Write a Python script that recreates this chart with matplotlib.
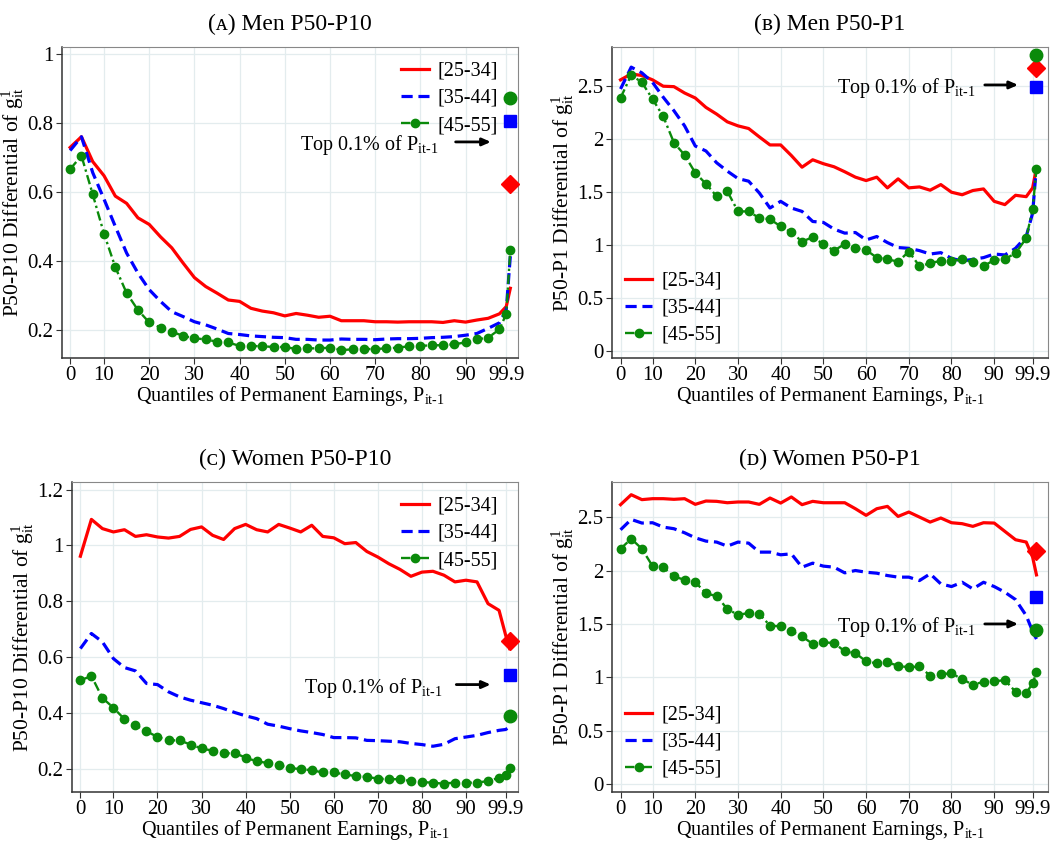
import numpy as np
import matplotlib
matplotlib.use("Agg")
import matplotlib.pyplot as plt

plt.rcParams['font.family'] = ['Liberation Serif', 'DejaVu Serif']
plt.rcParams['mathtext.fontset'] = 'custom'
plt.rcParams['mathtext.rm'] = 'Liberation Serif'
plt.rcParams['mathtext.it'] = 'Liberation Serif:italic'

# quantile positions (first point drawn at the "0" tick, 99 shown as "99.9")
quant = list(np.arange(2.5, 98, 2.5)) + [99.0, 99.9]
tick_pos = [2.5, 10, 20, 30, 40, 50, 60, 70, 80, 90, 99]
tick_lab = ['0', '10', '20', '30', '40', '50', '60', '70', '80', '90', '99.9']

# (A) Men P50-P10
men_p10_y25 = [0.729, 0.760, 0.688, 0.647, 0.588, 0.567, 0.525, 0.506, 0.470, 0.438,
               0.394, 0.352, 0.326, 0.307, 0.287, 0.283, 0.263, 0.255, 0.250, 0.241,
               0.248, 0.243, 0.237, 0.240, 0.227, 0.227, 0.227, 0.224, 0.224, 0.223,
               0.224, 0.224, 0.224, 0.222, 0.227, 0.223, 0.229, 0.234, 0.247, 0.268, 0.321]
men_p10_y35 = [0.720, 0.760, 0.656, 0.579, 0.500, 0.423, 0.365, 0.317, 0.283, 0.253,
               0.239, 0.224, 0.215, 0.203, 0.190, 0.187, 0.183, 0.181, 0.179, 0.178,
               0.173, 0.173, 0.171, 0.171, 0.174, 0.173, 0.173, 0.172, 0.174, 0.175,
               0.175, 0.176, 0.178, 0.179, 0.181, 0.185, 0.190, 0.205, 0.221, 0.258, 0.414]
men_p10_y45 = [0.666, 0.705, 0.593, 0.479, 0.382, 0.307, 0.258, 0.222, 0.207, 0.195,
               0.183, 0.176, 0.173, 0.166, 0.164, 0.154, 0.154, 0.153, 0.151, 0.151,
               0.145, 0.147, 0.147, 0.149, 0.142, 0.144, 0.145, 0.145, 0.147, 0.149,
               0.153, 0.154, 0.156, 0.156, 0.159, 0.164, 0.173, 0.178, 0.202, 0.247, 0.433]
men_p10_top = [0.622, 0.807, 0.873]

# (B) Men P50-P1
men_p1_y25 = [2.554, 2.610, 2.595, 2.554, 2.494, 2.490, 2.430, 2.383, 2.294, 2.231,
              2.158, 2.120, 2.095, 2.016, 1.940, 1.940, 1.840, 1.730, 1.800, 1.763,
              1.734, 1.687, 1.636, 1.604, 1.636, 1.535, 1.620, 1.535, 1.544, 1.513,
              1.566, 1.494, 1.470, 1.510, 1.525, 1.408, 1.377, 1.465, 1.452, 1.535, 1.725]
men_p1_y35 = [2.468, 2.674, 2.620, 2.530, 2.390, 2.263, 2.120, 1.930, 1.883, 1.772,
              1.693, 1.623, 1.598, 1.487, 1.345, 1.408, 1.345, 1.313, 1.218, 1.209,
              1.146, 1.108, 1.114, 1.044, 1.076, 1.019, 0.972, 0.965, 0.943, 0.911,
              0.924, 0.870, 0.845, 0.861, 0.877, 0.911, 0.902, 0.965, 1.076, 1.297, 1.740]
men_p1_y45 = [2.383, 2.600, 2.530, 2.373, 2.209, 1.962, 1.845, 1.677, 1.573, 1.456,
              1.503, 1.313, 1.313, 1.250, 1.240, 1.171, 1.117, 1.028, 1.070, 1.003,
              0.943, 1.006, 0.965, 0.949, 0.877, 0.861, 0.839, 0.934, 0.797, 0.823,
              0.848, 0.845, 0.861, 0.832, 0.797, 0.854, 0.864, 0.918, 1.060, 1.335, 1.715]
men_p1_top = [2.668, 2.484, 2.790]

# (C) Women P50-P10
wom_p10_y25 = [0.961, 1.093, 1.060, 1.048, 1.056, 1.032, 1.038, 1.030, 1.026, 1.032,
               1.057, 1.066, 1.036, 1.021, 1.060, 1.075, 1.056, 1.048, 1.075, 1.062,
               1.048, 1.072, 1.032, 1.027, 1.006, 1.010, 0.978, 0.958, 0.934, 0.914,
               0.889, 0.904, 0.907, 0.893, 0.869, 0.875, 0.869, 0.791, 0.767, 0.678, 0.630]
wom_p10_y35 = [0.630, 0.684, 0.654, 0.594, 0.562, 0.550, 0.505, 0.501, 0.475, 0.457,
               0.445, 0.436, 0.427, 0.415, 0.401, 0.389, 0.379, 0.359, 0.352, 0.343,
               0.335, 0.329, 0.322, 0.311, 0.311, 0.310, 0.301, 0.300, 0.298, 0.296,
               0.290, 0.286, 0.280, 0.287, 0.307, 0.313, 0.319, 0.329, 0.337, 0.340, 0.349]
wom_p10_y45 = [0.516, 0.532, 0.453, 0.418, 0.377, 0.355, 0.334, 0.313, 0.301, 0.301,
               0.286, 0.272, 0.264, 0.254, 0.256, 0.239, 0.226, 0.220, 0.212, 0.202,
               0.198, 0.194, 0.186, 0.186, 0.179, 0.173, 0.170, 0.164, 0.162, 0.162,
               0.155, 0.152, 0.149, 0.146, 0.150, 0.149, 0.150, 0.155, 0.167, 0.176, 0.202]
wom_p10_top = [0.656, 0.534, 0.389]

# (D) Women P50-P1
wom_p1_y25 = [2.616, 2.709, 2.663, 2.672, 2.672, 2.666, 2.672, 2.619, 2.650, 2.647,
              2.634, 2.641, 2.641, 2.619, 2.678, 2.631, 2.688, 2.616, 2.647, 2.634,
              2.634, 2.634, 2.578, 2.516, 2.578, 2.600, 2.506, 2.547, 2.500, 2.453,
              2.491, 2.447, 2.438, 2.413, 2.447, 2.444, 2.366, 2.288, 2.266, 2.125, 1.959]
wom_p1_y35 = [2.381, 2.478, 2.444, 2.447, 2.406, 2.391, 2.353, 2.306, 2.275, 2.266,
              2.228, 2.266, 2.256, 2.172, 2.172, 2.147, 2.156, 2.031, 2.069, 2.041,
              2.031, 1.978, 2.000, 1.984, 1.975, 1.953, 1.938, 1.938, 1.906, 1.969,
              1.875, 1.850, 1.890, 1.828, 1.890, 1.850, 1.797, 1.728, 1.578, 1.431, 1.359]
wom_p1_y45 = [2.203, 2.297, 2.203, 2.041, 2.031, 1.944, 1.913, 1.891, 1.788, 1.759,
              1.641, 1.584, 1.603, 1.594, 1.484, 1.478, 1.431, 1.384, 1.313, 1.328,
              1.322, 1.244, 1.228, 1.150, 1.131, 1.141, 1.109, 1.094, 1.103, 1.016,
              1.031, 1.038, 0.984, 0.931, 0.959, 0.963, 0.975, 0.866, 0.853, 0.944, 1.047]
wom_p1_top = [2.178, 1.750, 1.447]

labels = ['[25-34]', '[35-44]', '[45-55]']
RED, BLUE, GREEN = '#ff0000', '#0000ff', '#0a8a0a'

panels = [
    dict(title='(ᴀ) Men P50-P10', ys=[men_p10_y25, men_p10_y35, men_p10_y45], top=men_p10_top,
         box=[62, 47, 518, 358], xlim=(0.7, 101.6), ylim=(0.119, 1.02),
         yt=[0.2, 0.4, 0.6, 0.8, 1.0], ytl=['0.2', '0.4', '0.6', '0.8', '1'],
         ylab='P50-P10', leg=('upper right', (0.985, 0.995)), txt_y=0.735, arr_y=0.745),
    dict(title='(ʙ) Men P50-P1', ys=[men_p1_y25, men_p1_y35, men_p1_y45], top=men_p1_top,
         box=[612, 47, 1048, 358], xlim=(0.5, 102.6), ylim=(-0.07, 2.864),
         yt=[0, 0.5, 1, 1.5, 2, 2.5], ytl=['0', '0.5', '1', '1.5', '2', '2.5'],
         ylab='P50-P1', leg=('lower left', (0.0, 0.0)), txt_y=2.475, arr_y=2.506),
    dict(title='(ᴄ) Women P50-P10', ys=[wom_p10_y25, wom_p10_y35, wom_p10_y45], top=wom_p10_top,
         box=[72, 482, 518, 792], xlim=(0.6, 101.8), ylim=(0.116, 1.227),
         yt=[0.2, 0.4, 0.6, 0.8, 1.0, 1.2], ytl=['0.2', '0.4', '0.6', '0.8', '1', '1.2'],
         ylab='P50-P10', leg=('upper right', (0.985, 0.995)), txt_y=0.487, arr_y=0.501),
    dict(title='(ᴅ) Women P50-P1', ys=[wom_p1_y25, wom_p1_y35, wom_p1_y45], top=wom_p1_top,
         box=[612, 482, 1048, 792], xlim=(0.5, 102.6), ylim=(-0.072, 2.828),
         yt=[0, 0.5, 1, 1.5, 2, 2.5], ytl=['0', '0.5', '1', '1.5', '2', '2.5'],
         ylab='P50-P1', leg=('lower left', (0.0, 0.0)), txt_y=1.469, arr_y=1.5),
]

W, H = 1055, 846
fig = plt.figure(figsize=(W / 100, H / 100), dpi=100)

for p in panels:
    l, t, r, b = p['box']
    ax = fig.add_axes([l / W, 1 - b / H, (r - l) / W, (b - t) / H])
    y25, y35, y45 = p['ys']
    ax.plot(quant, y25, color=RED, lw=2.3, label=labels[0], zorder=3)
    ax.plot(quant, y35, color=BLUE, lw=2.3, ls=(0, (3.5, 1.8)), label=labels[1], zorder=3)
    ax.plot(quant, y45, color=GREEN, lw=1.7, ls=(0, (4, 1.5, 1, 1.5)), marker='o', ms=6,
            label=labels[2], zorder=3)
    # top 0.1% markers
    ax.plot(99.9, p['top'][0], marker='D', color=RED, ms=9, ls='none', clip_on=False, zorder=4)
    ax.plot(99.9, p['top'][1], marker='s', color=BLUE, ms=8, ls='none', clip_on=False, zorder=4)
    ax.plot(99.9, p['top'][2], marker='o', color=GREEN, ms=9, ls='none', clip_on=False, zorder=4)

    ax.text(53.3, p['txt_y'], r'Top 0.1% of P$_{\mathregular{it‐1}}$', fontsize=14.5, va='center')
    ax.annotate('', xy=(95.6, p['arr_y']), xytext=(87.8, p['arr_y']),
                arrowprops=dict(arrowstyle='-|>,head_length=0.5,head_width=0.22', lw=2,
                                color='black', shrinkA=0, shrinkB=0))

    ax.set_xlim(*p['xlim'])
    ax.set_ylim(*p['ylim'])
    ax.set_xticks(tick_pos)
    ax.set_xticklabels(tick_lab)
    ax.set_yticks(p['yt'])
    ax.set_yticklabels(p['ytl'])
    ax.tick_params(labelsize=15, length=4, width=0.8, color='#333333', pad=2)
    ax.grid(True, color='#e3ecee', lw=0.9)
    ax.set_axisbelow(True)
    for side in ['left', 'bottom']:
        ax.spines[side].set_color('#333333')
        ax.spines[side].set_linewidth(1.1)
    for side in ['top', 'right']:
        ax.spines[side].set_color('#888888')
        ax.spines[side].set_linewidth(0.8)

    ax.set_title(p['title'], fontsize=17, pad=12)
    ax.set_xlabel(r'Quantiles of Permanent Earnings, P$_{\mathregular{it‐1}}$', fontsize=14.5, labelpad=-1)
    ax.set_ylabel(p['ylab'] + r' Differential of g$^{\mathregular{1}}_{\mathregular{it}}$',
                  fontsize=15.5, labelpad=1)
    ax.legend(loc=p['leg'][0], bbox_to_anchor=p['leg'][1], frameon=False, fontsize=14.5,
              handlelength=1.35, labelspacing=0.4, borderaxespad=0.25, handletextpad=0.45)

fig.savefig('out.png', dpi=100)
